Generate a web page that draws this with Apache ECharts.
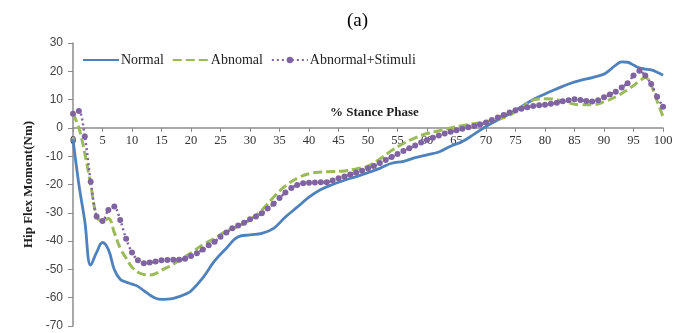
<!DOCTYPE html>
<html>
<head>
<meta charset="utf-8">
<script src="https://cdn.jsdelivr.net/npm/echarts@6/dist/echarts.min.js"></script>
<style>
  html, body { margin: 0; padding: 0; background: #ffffff; }
  #chart { width: 694px; height: 333px; }
</style>
</head>
<body>
<div id="chart"></div>
<script>
// Hip flexion moment over the stance phase (Nm vs % stance)
const seriesNames = ['Normal', 'Abnomal', 'Abnormal+Stimuli'];

const normalX = [0,1,2,3,4,5,6,7,8,9,10,11,12,13,14,15,16,17,18,19,20,22,24,26,28,30,32,34,36,38,40,42,44,46,48,50,52,54,56,58,60,62,64,66,68,70,72,74,76,78,80,82,84,86,88,90,91,92,93,94,95,96,97,98,99,100];
const normalY = [-4,-20,-33,-48.5,-44,-40.5,-43,-50,-53.5,-54.5,-55.2,-56,-57.5,-59,-60.2,-60.6,-60.5,-60.2,-59.6,-58.8,-57.6,-53,-47,-42.5,-38.5,-37.8,-37.3,-35.5,-31.5,-28,-24.5,-21.8,-20,-18.5,-17.2,-15.8,-14.3,-12.5,-11.8,-10.5,-9.5,-8.5,-6.5,-4.8,-2.2,0.5,2.8,5,7.5,10,12,13.8,15.5,16.8,17.8,19,20.5,22.2,23.3,23.2,22.2,21.2,20.8,20.5,19.7,18.6];

const abnormalX = [0,1,2,3,4,5,6,7,8,9,10,11,12,13,14,15,16,17,18,19,20,22,24,26,28,30,32,34,36,38,40,42,44,46,48,50,52,54,56,58,60,62,64,66,68,70,72,74,76,78,80,82,84,86,88,90,92,94,95,96,97,98,99,100];
const abnormalY = [5,0,-9,-20,-31,-33,-32,-37,-42.5,-46,-49.2,-51,-51.8,-52,-51.5,-50.3,-49.3,-48.2,-46.8,-45.5,-44.2,-41.3,-39,-36.5,-34.8,-32.5,-29,-24.5,-20.5,-17.8,-16.2,-15.6,-15.4,-15.2,-14.5,-13.5,-11,-8,-5.5,-3.5,-2,-1,0,0.8,1.5,2.2,3,4.5,7,9.8,10.3,10,8.8,8.2,8.2,9.2,11,13.5,15,16.5,17.8,15,9.5,4];

const stimuliX = [0,1,2,3,4,5,6,7,8,9,10,11,12,13,14,15,16,17,18,19,20,21,22,23,24,25,26,27,28,29,30,31,32,33,34,35,36,37,38,39,40,41,42,43,44,45,46,47,48,49,50,51,52,53,54,55,56,57,58,59,60,61,62,63,64,65,66,67,68,69,70,71,72,73,74,75,76,77,78,79,80,81,82,83,84,85,86,87,88,89,90,91,92,93,94,95,96,97,98,99,100];
const stimuliY = [5,6,-3,-19,-31.3,-32.9,-29,-27.8,-32.5,-39.2,-44,-46.8,-47.8,-47.6,-47.2,-46.8,-46.7,-46.6,-46.6,-46.2,-45.3,-44.3,-43,-41.5,-40.2,-38.5,-37,-35.5,-34.5,-33.5,-32.3,-31.3,-30.2,-28.5,-26.8,-24.8,-22.8,-21.2,-20.2,-19.6,-19.4,-19.3,-19.2,-19.2,-18.6,-17.8,-17.2,-16.5,-15.8,-15.1,-14.3,-13.5,-12.4,-11.3,-10.3,-9.2,-8.2,-7.2,-6.2,-5.2,-4.3,-3.5,-2.7,-2,-1.4,-0.8,-0.3,0.2,0.7,1.2,1.9,2.8,3.7,4.6,5.4,6.2,6.8,7.3,7.7,8,8.2,8.5,8.9,9.4,9.8,10.1,9.9,9.5,9.3,9.8,10.8,11.8,12.8,14.3,15.8,18.5,20.2,18.5,15.5,11,7.5];

const yTickMin = -70;
const yTickMax = 30;

const pairs = (xs, ys) => xs.map((x, i) => [x, ys[i]]);

const serif = '"Liberation Serif", "DejaVu Serif", serif';
const sans = '"Liberation Sans", Arial, sans-serif';

// plot area
const gridTop = 43, gridBottom = 7, chartH = 333;
const plotH = chartH - gridTop - gridBottom;
// lift the x axis (line, ticks and labels) up to y = 0
const zeroOffset = -plotH * (0 - yTickMin) / (yTickMax - yTickMin);

const chart = echarts.init(document.getElementById('chart'), null, { renderer: 'canvas' });

chart.setOption({
  backgroundColor: '#ffffff',
  animation: false,
  title: {
    text: '(a)',
    left: 342,
    top: 7,
    textStyle: { fontFamily: serif, fontSize: 19, fontWeight: 'normal', color: '#000' }
  },
  legend: {
    left: 77,
    top: 48,
    itemWidth: 36,
    itemHeight: 8,
    itemGap: 8,
    textStyle: { fontFamily: serif, fontSize: 14, color: '#222', padding: [0, 0, 0, -3] },
    data: [
      { name: seriesNames[0], itemStyle: { opacity: 0 } },
      { name: seriesNames[1], itemStyle: { opacity: 0 } },
      { name: seriesNames[2] }
    ]
  },
  grid: { left: 73, right: 31, top: gridTop, bottom: gridBottom, containLabel: false },
  xAxis: {
    type: 'value',
    min: 0,
    max: 100,
    interval: 5,
    offset: zeroOffset,
    axisLine: { onZero: false, lineStyle: { color: '#8c8c8c', width: 1.5 } },
    axisTick: { show: true, length: 4, lineStyle: { color: '#8c8c8c' } },
    axisLabel: { fontFamily: serif, fontSize: 12.5, color: '#333', margin: 6 },
    splitLine: { show: false }
  },
  yAxis: {
    type: 'value',
    min: yTickMin,
    max: yTickMax,
    interval: 10,
    name: 'Hip Flex Moment(Nm)',
    nameLocation: 'middle',
    nameGap: 31,
    nameTextStyle: { fontFamily: serif, fontSize: 13, fontWeight: 'bold', color: '#222' },
    axisLine: { show: true, lineStyle: { color: '#8c8c8c', width: 1.5 } },
    axisTick: { show: true, length: 5, lineStyle: { color: '#8c8c8c' } },
    axisLabel: { fontFamily: sans, fontSize: 12, color: '#444', margin: 10 },
    splitLine: { show: false }
  },
  graphic: [{
    type: 'text',
    left: 330,
    top: 106,
    style: { text: '% Stance Phase', fontFamily: serif, fontSize: 13, fontWeight: 'bold', fill: '#222' }
  }],
  series: [
    {
      name: seriesNames[0],
      type: 'line',
      smooth: 0.4,
      symbol: 'none',
      data: pairs(normalX, normalY),
      lineStyle: { color: '#4f81bd', width: 2.8 },
      itemStyle: { color: '#4f81bd' },
      z: 2
    },
    {
      name: seriesNames[1],
      type: 'line',
      smooth: 0.4,
      symbol: 'none',
      data: pairs(abnormalX, abnormalY),
      lineStyle: { color: '#9bbb59', width: 3, type: [9, 4] },
      itemStyle: { color: '#9bbb59' },
      z: 3
    },
    {
      name: seriesNames[2],
      type: 'line',
      smooth: 0.3,
      symbol: 'circle',
      symbolSize: 6,
      showAllSymbol: true,
      data: pairs(stimuliX, stimuliY),
      lineStyle: { color: '#8064a2', width: 2.5, type: [2, 3] },
      itemStyle: { color: '#8064a2' },
      z: 4
    }
  ]
});
</script>
</body>
</html>
